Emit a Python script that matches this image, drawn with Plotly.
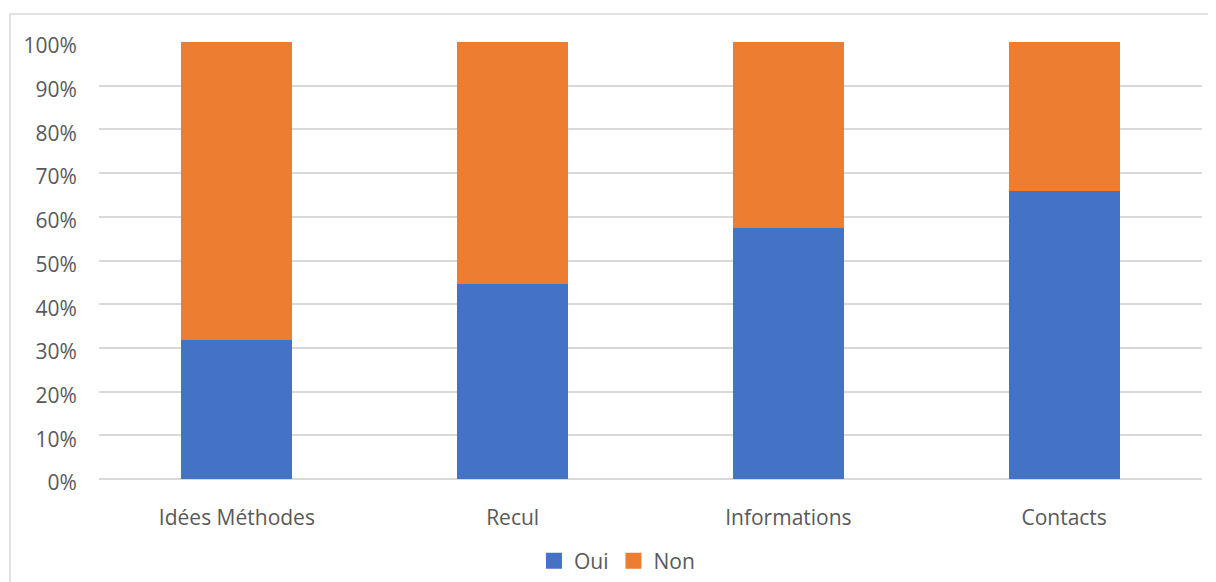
import plotly.graph_objects as go

categories = ["Idées Méthodes", "Recul", "Informations", "Contacts"]
oui = [31.8, 44.6, 57.4, 65.9]
non = [100 - v for v in oui]
tick_vals = [0, 10, 20, 30, 40, 50, 60, 70, 80, 90, 100]
tick_text = [f"{v}%" for v in tick_vals]

font_family = "Open Sans"
txt_color = "#595959"
blue = "#4472C4"
orange = "#ED7D31"

fig = go.Figure()
fig.add_trace(go.Bar(name="Oui", x=categories, y=oui, marker_color=blue,
                     marker_line_width=0, showlegend=False))
fig.add_trace(go.Bar(name="Non", x=categories, y=non, marker_color=orange,
                     marker_line_width=0, showlegend=False))
# legend entries with larger square swatches
for name, col in (("Oui", blue), ("Non", orange)):
    fig.add_trace(go.Scatter(name=name, x=[None], y=[None], mode="markers",
                             marker=dict(symbol="square", size=16, color=col)))

fig.update_layout(
    barmode="stack",
    bargap=0.598,
    width=1208, height=574,
    margin=dict(l=91, r=14, t=34, b=103),
    paper_bgcolor="white",
    plot_bgcolor="white",
    font=dict(family=font_family, color=txt_color, size=21),
    showlegend=True,
    legend=dict(orientation="h", xref="container", yref="container",
                x=0.4354, xanchor="left", y=0.0366, yanchor="middle",
                font=dict(size=21, color=txt_color), traceorder="normal",
                bgcolor="rgba(0,0,0,0)"),
    xaxis=dict(showgrid=False, showline=False, ticks="outside", ticklen=20,
               automargin=False,
               tickcolor="rgba(0,0,0,0)", tickfont=dict(size=21, color=txt_color)),
    yaxis=dict(range=[0, 100], tickvals=tick_vals, ticktext=tick_text,
               automargin=False, ticklabelshift=4,
               showgrid=True, gridcolor="#d9d9d9", gridwidth=1.5,
               zeroline=True, zerolinecolor="#d9d9d9", zerolinewidth=1.5,
               showline=False, ticks="outside", ticklen=17,
               tickcolor="rgba(0,0,0,0)", tickfont=dict(size=21, color=txt_color)),
    shapes=[dict(type="rect", xref="paper", yref="paper",
                 x0=-0.0807, x1=1.02, y0=-0.26, y1=1.064,
                 line=dict(color="#d9d9d9", width=1.5), fillcolor="rgba(0,0,0,0)",
                 layer="below")],
)

fig.write_html("out.html")
